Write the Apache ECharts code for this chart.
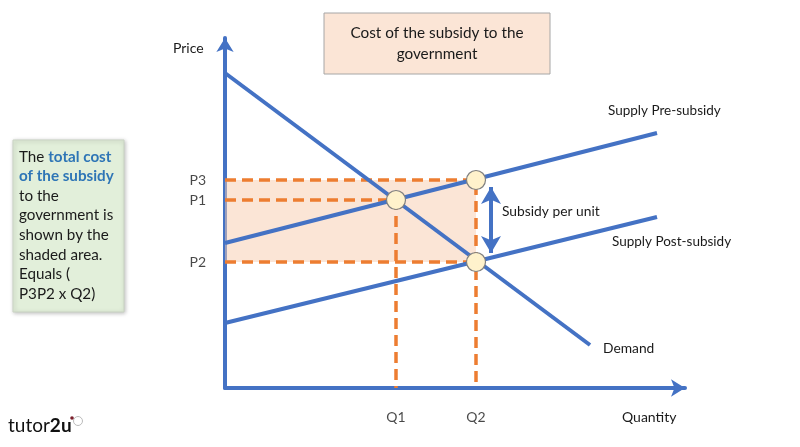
<!DOCTYPE html>
<html>
<head>
<meta charset="utf-8">
<script src="https://cdn.jsdelivr.net/npm/echarts@6/dist/echarts.min.js"></script>
<style>
  html, body { margin: 0; padding: 0; background: #fff; }
  #chart { width: 800px; height: 447px; }
</style>
</head>
<body>
<div id="chart"></div>
<script>
// diagram values (quantity on x, price on y, arbitrary units)
var demand = [[0, 31.5], [36.5, 4.3]]
var supplyPre = [[0, 14.5], [43.2, 25.5]]
var supplyPost = [[0, 6.5], [43.2, 17.1]]
var qLabels = ['Q1', 'Q2']
var qValues = [17.1, 25.1]
var pLabels = ['P3', 'P1', 'P2']
var pValues = [20.8, 18.8, 12.6]
var equilibria = [[17.1, 18.8], [25.1, 20.8], [25.1, 12.6]]
var subsidyArrow = [[26.6, 20.1], [26.6, 13.5]]

var blue = '#4472C4'
var orange = '#ED7D31'
var font = 'Lato, "Open Sans", sans-serif'

var P3 = pValues[0], P1 = pValues[1], P2 = pValues[2]
var Q1 = qValues[0], Q2 = qValues[1]

function dashed (data) {
  return {
    type: 'line',
    data: data,
    showSymbol: false,
    silent: true,
    z: 3,
    lineStyle: { color: orange, width: 3.5, type: [11, 6] }
  }
}

function solid (data) {
  return {
    type: 'line',
    data: data,
    showSymbol: false,
    silent: true,
    z: 4,
    lineStyle: { color: blue, width: 4 }
  }
}

var chart = echarts.init(document.getElementById('chart'))

var options = {
  animation: false,
  textStyle: { fontFamily: font },
  grid: { left: 225, top: 38, width: 460, height: 350 },
  xAxis: {
    type: 'value',
    min: 0,
    max: 46,
    axisLine: { show: true, symbol: ['none', 'arrow'], symbolSize: [13, 14], lineStyle: { color: blue, width: 4 } },
    axisTick: { show: false },
    axisLabel: { show: false },
    splitLine: { show: false }
  },
  yAxis: {
    type: 'value',
    min: 0,
    max: 35,
    axisLine: { show: true, symbol: ['none', 'arrow'], symbolSize: [13, 14], lineStyle: { color: blue, width: 4 } },
    axisTick: { show: false },
    axisLabel: { show: false },
    splitLine: { show: false }
  },
  series: [
    {
      // shaded cost area
      type: 'line',
      data: [],
      silent: true,
      markArea: {
        silent: true,
        itemStyle: { color: 'rgba(248, 203, 173, 0.5)' },
        data: [[{ coord: [0, P3] }, { coord: [Q2, P2] }]]
      }
    },
    dashed([[0, P3], [Q2, P3], [Q2, 0]]),
    dashed([[0, P1], [Q1, P1], [Q1, 0]]),
    dashed([[0, P2], [Q2, P2]]),
    solid(demand),
    solid(supplyPre),
    solid(supplyPost),
    {
      type: 'line',
      data: [],
      silent: true,
      markLine: {
        silent: true,
        symbol: ['arrow', 'arrow'],
        symbolSize: [15, 17],
        label: { show: false },
        lineStyle: { color: blue, width: 4, type: 'solid' },
        data: [[{ coord: subsidyArrow[0] }, { coord: subsidyArrow[1] }]]
      }
    },
    {
      type: 'scatter',
      data: equilibria,
      symbolSize: 19,
      silent: true,
      z: 6,
      itemStyle: { color: '#FFF2CC', opacity: 1, borderColor: '#7F7F7F', borderWidth: 1.2 }
    },
    {
      type: 'scatter',
      data: pValues.map(function (v, i) { return { value: [0, v], name: pLabels[i] } }),
      symbolSize: 0,
      silent: true,
      label: { show: true, position: 'left', distance: 19, formatter: '{b}', color: '#1a1a1a', fontSize: 14, fontFamily: font }
    },
    {
      type: 'scatter',
      data: qValues.map(function (v, i) { return { value: [v, 0], name: qLabels[i] } }),
      symbolSize: 0,
      silent: true,
      label: { show: true, position: 'bottom', distance: 22, formatter: '{b}', color: '#1a1a1a', fontSize: 14, fontFamily: font }
    }
  ],
  graphic: [
    { type: 'text', left: 173, top: 41, style: { text: 'Price', fontSize: 14, fontFamily: font, fill: '#1a1a1a' } },
    { type: 'text', left: 622, top: 410, style: { text: 'Quantity', fontSize: 14, fontFamily: font, fill: '#1a1a1a' } },
    { type: 'text', left: 608, top: 104, style: { text: 'Supply Pre-subsidy', fontSize: 13.5, fontFamily: font, fill: '#1a1a1a' } },
    { type: 'text', left: 612, top: 235, style: { text: 'Supply Post-subsidy', fontSize: 13.5, fontFamily: font, fill: '#1a1a1a' } },
    { type: 'text', left: 603, top: 342, style: { text: 'Demand', fontSize: 13.8, fontFamily: font, fill: '#1a1a1a' } },
    { type: 'text', left: 502, top: 205, style: { text: 'Subsidy per unit', fontSize: 13.8, fontFamily: font, fill: '#1a1a1a' } },
    {
      type: 'rect',
      shape: { x: 324, y: 13, width: 226, height: 61 },
      style: { fill: '#FBE5D6', stroke: '#A6A6A6', lineWidth: 1 }
    },
    {
      type: 'text',
      x: 437,
      y: 23,
      style: {
        text: 'Cost of the subsidy to the\ngovernment',
        fontSize: 15.3,
        lineHeight: 21,
        align: 'center',
        fontFamily: font,
        fill: '#1a1a1a'
      }
    },
    {
      type: 'rect',
      shape: { x: 13, y: 140, width: 111, height: 172 },
      style: { fill: '#E2EFDA', stroke: '#C9D3C3', lineWidth: 1, shadowBlur: 4, shadowColor: 'rgba(0,0,0,0.25)', shadowOffsetX: 1, shadowOffsetY: 1 }
    },
    {
      type: 'text',
      left: 19,
      top: 147,
      style: {
        text: 'The {b|total cost}\n{b|of the subsidy}\nto the\ngovernment is\nshown by the\nshaded area.\nEquals (\nP3P2 x Q2)',
        fontSize: 15.2,
        lineHeight: 19.6,
        fontFamily: font,
        fill: '#1a1a1a',
        rich: {
          b: { fontSize: 15.2, fontWeight: 'bold', fill: '#2E75B6', fontFamily: font, lineHeight: 19.6 }
        }
      }
    },
    {
      type: 'text',
      left: 8,
      top: 416,
      style: {
        text: 'tutor{b|2u}',
        fontSize: 19,
        fontFamily: font,
        fill: '#111',
        rich: { b: { fontSize: 19, fontWeight: 'bold', fill: '#111', fontFamily: font } }
      }
    },
    { type: 'circle', shape: { cx: 78, cy: 421, r: 4.5 }, style: { fill: '#fff', stroke: '#bbb', lineWidth: 1 } },
    { type: 'circle', shape: { cx: 72, cy: 418, r: 1.8 }, style: { fill: '#7a1f2b' } }
  ]
}

chart.setOption(options)
</script>
</body>
</html>
